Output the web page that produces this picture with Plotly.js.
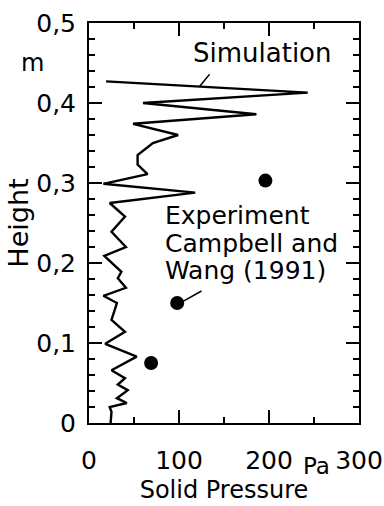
<!DOCTYPE html>
<html><head><meta charset="utf-8">
<script src="https://cdn.plot.ly/plotly-3.0.1.min.js"></script>
<style>html,body{margin:0;padding:0;background:#fff}#chart{width:384px;height:506px}</style>
</head><body><div id="chart"></div>
<script>
// Simulation profile (solid pressure in Pa vs height in m)
const simPressure = [19, 243, 60, 186, 49, 99, 71, 54, 54, 65, 16, 118, 23, 40, 25, 41, 17, 36, 32, 41, 16, 31, 25, 40, 18, 53, 25, 40, 32, 43, 31, 42, 23, 25, 24];
const simHeight   = [0.427, 0.413, 0.400, 0.386, 0.374, 0.360, 0.350, 0.335, 0.323, 0.311, 0.299, 0.288, 0.275, 0.258, 0.239, 0.220, 0.209, 0.189, 0.181, 0.169, 0.159, 0.150, 0.129, 0.114, 0.099, 0.083, 0.066, 0.056, 0.048, 0.041, 0.031, 0.025, 0.020, 0.014, 0.000];
// Experiment, Campbell and Wang (1991)
const expPressure = [196, 98, 69];
const expHeight   = [0.303, 0.150, 0.075];
// Tick labels
const xTickVals = [0, 100, 200, 300];
const xTickText = ['0', '100', '200', '300'];
const yTickVals = [0, 0.1, 0.2, 0.3, 0.4, 0.5];
const yTickText = ['0', '0,1', '0,2', '0,3', '0,4', '0,5'];
// Label texts
const simLabel = 'Simulation';
const expLabelLines = ['Experiment', 'Campbell and', 'Wang (1991)'];
// Leader lines [x0, y0, x1, y1] in data units
const simLeader = [123, 0.421, 134, 0.436];
const expLeader = [103, 0.151, 125, 0.165];

const FONT = 'DejaVu Sans, Liberation Sans, Arial, sans-serif';

const traces = [
  {x: simPressure, y: simHeight, type: 'scatter', mode: 'lines', name: 'Simulation',
   line: {color: '#000', width: 2.4}, showlegend: false, hoverinfo: 'skip'},
  {x: expPressure, y: expHeight, type: 'scatter', mode: 'markers', name: 'Experiment',
   marker: {color: '#000', size: 14}, showlegend: false, hoverinfo: 'skip'}
];

const annotations = [
  {x: 193, y: 0.4625, xref: 'x', yref: 'y', text: simLabel, showarrow: false,
   xanchor: 'center', yanchor: 'middle', font: {family: FONT, size: 26, color: '#000'}},
  {x: (32 - 89) / 270, y: (423 - 63) / 400, xref: 'paper', yref: 'paper', text: 'm',
   showarrow: false, xanchor: 'center', yanchor: 'middle', font: {family: FONT, size: 24, color: '#000'}},
  {x: (316 - 89) / 270, y: (423 - 466) / 400, xref: 'paper', yref: 'paper', text: 'Pa',
   showarrow: false, xanchor: 'center', yanchor: 'middle', font: {family: FONT, size: 23, color: '#000'}}
];
const expY = [0.259, 0.225, 0.191];
expLabelLines.forEach((t, i) => annotations.push({
  x: 82, y: expY[i], xref: 'x', yref: 'y', text: t, showarrow: false,
  xanchor: 'left', yanchor: 'middle', font: {family: FONT, size: 25, color: '#000'}
}));

const shapes = [simLeader, expLeader].map(s => ({
  type: 'line', xref: 'x', yref: 'y', x0: s[0], y0: s[1], x1: s[2], y1: s[3],
  line: {color: '#000', width: 1.5}
}));

const layout = {
  width: 384, height: 506,
  margin: {l: 89, r: 25, t: 23, b: 83},
  paper_bgcolor: '#fff', plot_bgcolor: '#fff',
  font: {family: FONT, color: '#000'},
  showlegend: false,
  xaxis: {
    range: [0, 300], tickvals: xTickVals, ticktext: xTickText,
    ticks: 'inside', ticklen: 13, tickwidth: 1.5, tickcolor: '#000',
    showline: true, linecolor: '#000', linewidth: 2, mirror: 'allticks',
    showgrid: false, zeroline: false,
    minor: {dtick: 50, ticks: 'inside', ticklen: 6, tickwidth: 1.5, tickcolor: '#000', showgrid: false},
    tickfont: {family: FONT, size: 25, color: '#000'},
    ticklabelstandoff: 14,
    title: {text: 'Solid Pressure', font: {family: FONT, size: 24, color: '#000'}, standoff: 7},
    automargin: false, fixedrange: true
  },
  yaxis: {
    range: [0, 0.5], tickvals: yTickVals, ticktext: yTickText,
    ticks: 'inside', ticklen: 13, tickwidth: 1.5, tickcolor: '#000',
    showline: true, linecolor: '#000', linewidth: 2, mirror: 'allticks',
    showgrid: false, zeroline: false,
    minor: {dtick: 0.02, ticks: 'inside', ticklen: 6, tickwidth: 1.5, tickcolor: '#000', showgrid: false},
    tickfont: {family: FONT, size: 25, color: '#000'},
    ticklabelstandoff: 6,
    title: {text: 'Height', font: {family: FONT, size: 27, color: '#000'}, standoff: 0},
    automargin: false, fixedrange: true
  },
  annotations: annotations,
  shapes: shapes
};

Plotly.newPlot('chart', traces, layout, {staticPlot: true, displayModeBar: false});
</script>
</body></html>
